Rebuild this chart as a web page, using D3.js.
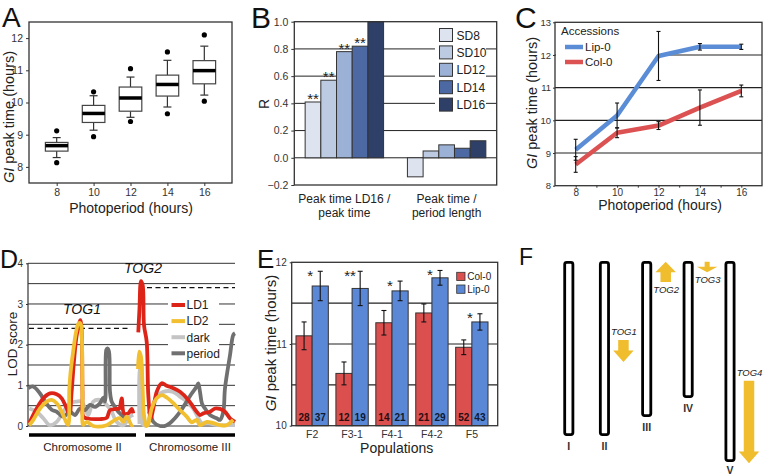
<!DOCTYPE html>
<html><head><meta charset="utf-8">
<script src="https://cdn.jsdelivr.net/npm/d3@7"></script>
<style>body{margin:0;background:#fff}</style>
</head><body><svg id="c" width="765" height="476"></svg>
<script>
// ---------- DATA ----------
// Panel A (box plots)
const photoA = [8, 10, 12, 14, 16];
const aOutHi = [9.12, 10.33, 11.05, 11.57, 12.1];
const aWhiHi = [8.91, 10.21, 10.79, 11.31, 11.75];
const aQ3 = [8.76, 9.91, 10.48, 10.85, 11.3];
const aMed = [8.66, 9.66, 10.14, 10.56, 10.99];
const aQ1 = [8.49, 9.38, 9.73, 10.2, 10.58];
const aWhiLo = [8.29, 9.14, 9.54, 9.86, 10.23];
const aOutLo = [8.13, 8.94, 9.41, 9.65, 10.04];
const ticksA_y = [8, 9, 10, 11, 12];

// Panel B (correlations)
const groupsB = ["peak", "period"];
const groupLabelsB = [["Peak time LD16 /", "peak time"], ["Peak time /", "period length"]];
const seriesB = ["SD8", "SD10", "LD12", "LD14", "LD16"];
const rPeakLD16 = [0.41, 0.57, 0.78, 0.82, 1.0];
const rPeriod = [-0.14, 0.05, 0.095, 0.07, 0.125];
const sigB = ["**", "**", "**", "**", ""];
const colorsB = ["#dde4f0", "#bccbe2", "#9bb1d6", "#4d69a4", "#2f4068"];
const ticksB = [-0.2, 0, 0.2, 0.4, 0.6, 0.8, 1.0];

// Panel C (accessions)
const photoC = [8, 10, 12, 14, 16];
const lipMean = [9.1, 10.15, 11.97, 12.25, 12.25];
const lipErr = [0.32, 0.38, 0.75, 0.1, 0.08];
const colMean = [8.65, 9.62, 9.84, 10.39, 10.9];
const colErr = [0.24, 0.15, 0.12, 0.54, 0.18];

// Panel D (QTL LOD profiles) : [map position, LOD]
const ld1Chr2 = [[1.3,0.07],[8.7,0.43],[15.3,0.68],[22,0.8],[28.7,0.78],[33.7,0.68],[38.7,0.43],[41.5,0.28],[43.5,0.8],[46,1.6],[48.5,2.2],[51,2.5],[52.3,2.6],[53.5,2.4],[54.5,0.8],[55.3,0.23],[58.7,0.19],[72,0.17],[78.7,0.2],[82,0.39],[88.7,0.42],[91.3,0.43],[93.7,0.68],[96,0.31],[100.3,0.31],[103.7,0.42],[105.3,0.31]];
const ld1Chr3 = [[110.3,2.3],[111.5,2.9],[113,3.56],[114.7,3.46],[116,2.48],[118.7,2.07],[120.3,0.76],[122.7,0.19],[125.3,0.43],[128.7,0.84],[133.7,1.05],[138.7,0.99],[145.3,0.93],[152,0.84],[160.3,0.64],[168.7,0.35],[172,0.27],[175.3,0.31],[182,0.35],[187,0.43],[192,0.42],[197,0.35],[202,0.19],[207,0.1]];
const ld2Chr2 = [[1.3,0.02],[5.3,0.15],[12,0.43],[18.7,0.6],[23.7,0.64],[28.7,0.56],[33.7,0.35],[38.7,0.07],[40.3,0.03],[41.3,0.9],[42.5,1.3],[45,1.8],[48,2.3],[50.5,2.52],[52.5,2.52],[53.8,2.2],[54.5,0.6],[55.3,0.03],[58.7,0.1],[65.3,0.0],[78.7,0.02],[87,0.15],[92,0.19],[95.3,0.1],[98.7,0.23],[103.7,0.02],[105.3,0.03]];
const ld2Chr3 = [[110,1.4],[111.3,1.83],[113,1.7],[114.5,1.0],[116,0.27],[118.3,0.0],[120,0.03],[123.7,0.43],[128.7,0.68],[133.7,0.76],[138.7,0.7],[145.3,0.56],[152,0.39],[158.7,0.23],[163.7,0.09],[168.7,0.15],[172,0.02],[178.7,0.1],[185.3,0.07],[192,0.02],[198.7,0.02],[205.3,0.15]];
const darkChr2 = [[1.3,0.43],[8.7,0.35],[15.3,0.19],[22,0.02],[28.7,0.1],[35.3,0.35],[42,0.56],[48.7,0.6],[53.7,0.6],[57,0.43],[60.3,0.27],[65.3,0.6],[72,0.64],[78.7,0.52],[83.7,0.35],[88.7,0.1],[95.3,0.02],[102,0.23],[105.3,0.27]];
const darkChr3 = [[111.5,0.05],[112.5,1.5],[113.5,1.5],[114.5,0.05],[118,0.02],[123.7,0.43],[128.7,0.72],[135.3,0.84],[145.3,0.84],[152,0.72],[158.7,0.6],[165,0.43],[170.3,0.2],[173.7,0.07],[180,0.07],[190,0.02],[200,0.02],[207,0.02]];
const periodChr2 = [[0.3,0.93],[5.3,0.97],[12,0.8],[17,0.6],[23.7,0.4],[28.7,0.35],[35.3,0.23],[42,0.35],[47,0.27],[52,0.43],[57,0.39],[62,0.52],[67,0.47],[72,0.56],[75.3,0.7],[77,0.6],[78.3,1.87],[79.5,1.91],[81,1.83],[82,0.84],[83.7,0.6],[87,0.47],[90.3,0.35],[93.7,0.27],[98.7,0.15]];
const periodChr3 = [[121,0.3],[122,0.35],[125.3,0.1],[132,0.0],[138.7,0.02],[145.3,0.15],[152,0.35],[158.7,0.6],[163.7,0.8],[168.7,0.97],[170.3,1.05],[172,0.84],[174,0.55],[177,0.43],[182,0.27],[188.7,0.19],[192,0.15],[195.3,0.35],[197,0.93],[202,1.74],[205.3,2.24],[207,2.28]];
const thresholdsD = [{chr: "II", lod: 2.4, from: 1, to: 100}, {chr: "III", lod: 3.4, from: 119, to: 207}];
const chromosD = [{name: "Chromosome II", from: 1, to: 108}, {name: "Chromosome III", from: 117, to: 207}];
const qtlLabelsD = [{name: "TOG1", pos: 54, lod: 2.75}, {name: "TOG2", pos: 115, lod: 3.75}];
const legendD = ["LD1", "LD2", "dark", "period"];
const colorsD = ["#dd2418", "#f1bf30", "#c4c4c4", "#707070"];
const ticksD = [0, 1, 2, 3, 4];
const gridD = [0, 0.5, 1, 1.5, 2, 2.5, 3, 3.5, 4];

// Panel E (populations)
const pops = ["F2", "F3-1", "F4-1", "F4-2", "F5"];
const colE = [11.1, 10.64, 11.26, 11.38, 10.96];
const colEErr = [0.17, 0.14, 0.15, 0.11, 0.09];
const lipE = [11.71, 11.68, 11.65, 11.81, 11.27];
const lipEErr = [0.18, 0.21, 0.12, 0.09, 0.1];
const nCol = [28, 12, 14, 21, 52];
const nLip = [37, 19, 21, 29, 43];
const sigE = ["*", "**", "*", "*", "*"];
const ticksE = [10, 11, 12];
const gridE = [10.5, 11, 11.5];

// Panel F (chromosome map)
const chrNames = ["I", "II", "III", "IV", "V"];
const chrSlot = [0, 0.86, 1.88, 2.88, 3.89];
const chrLen = [175, 175, 156, 137, 201];
const togs = [
  {name: "TOG1", chr: 1, from: 79, to: 101},
  {name: "TOG2", chr: 2, from: 21, to: 0.7},
  {name: "TOG3", chr: 3, from: 0.7, to: 11.3},
  {name: "TOG4", chr: 4, from: 119.7, to: 202.3}
];

// ---------- DRAWING ----------
const FONT = 'Arial, "Liberation Sans", Helvetica, sans-serif';
const svg = d3.select("#c").attr("font-family", FONT);
const INK = "#222";

function panelLabel(t, x, y, s) {
  svg.append("text").attr("x", x).attr("y", y).attr("font-size", s).attr("fill", "#111").text(t);
}
function styleAxis(g, fs) {
  g.attr("font-family", FONT);
  g.select(".domain").remove();
  g.selectAll(".tick text").attr("font-size", fs).attr("fill", "#333");
  g.selectAll(".tick line").attr("stroke", "#333");
}
function giLabel(g, x, y, fs) {
  const t = g.append("text").attr("transform", `translate(${x},${y}) rotate(-90)`)
    .attr("text-anchor", "middle").attr("font-size", fs).attr("fill", INK);
  t.append("tspan").attr("font-style", "italic").text("GI");
  t.append("tspan").text(" peak time (hours)");
}

// ===== Panel A =====
{
  const g = svg.append("g");
  const x = d3.scaleLinear().domain([6.5, 17.5]).range([29, 232]);
  const y = d3.scaleLinear().domain([7.5, 12.5]).range([183, 22]);
  g.append("rect").attr("x", 29).attr("y", 22).attr("width", 203).attr("height", 161)
    .attr("fill", "none").attr("stroke", "#333").attr("stroke-width", 1.3);
  const ya = g.append("g").attr("transform", "translate(29,0)")
    .call(d3.axisLeft(y).tickValues(ticksA_y).tickSize(3).tickFormat(d3.format("d")));
  styleAxis(ya, 10.5);
  const xa = g.append("g").attr("transform", "translate(0,183)")
    .call(d3.axisBottom(x).tickValues(photoA).tickSize(3).tickFormat(d3.format("d")));
  styleAxis(xa, 10.5);
  const bw = 22.6, cw = 8;
  photoA.forEach((p, i) => {
    const cx = x(p);
    g.append("line").attr("x1", cx).attr("x2", cx).attr("y1", y(aWhiHi[i])).attr("y2", y(aQ3[i])).attr("stroke", "#333").attr("stroke-width", 1.2);
    g.append("line").attr("x1", cx).attr("x2", cx).attr("y1", y(aQ1[i])).attr("y2", y(aWhiLo[i])).attr("stroke", "#333").attr("stroke-width", 1.2);
    [aWhiHi[i], aWhiLo[i]].forEach(v => g.append("line").attr("x1", cx - cw / 2).attr("x2", cx + cw / 2)
      .attr("y1", y(v)).attr("y2", y(v)).attr("stroke", "#333").attr("stroke-width", 1.2));
    g.append("rect").attr("x", cx - bw / 2).attr("y", y(aQ3[i])).attr("width", bw).attr("height", y(aQ1[i]) - y(aQ3[i]))
      .attr("fill", "#fff").attr("stroke", "#444").attr("stroke-width", 1.2);
    g.append("line").attr("x1", cx - bw / 2).attr("x2", cx + bw / 2).attr("y1", y(aMed[i])).attr("y2", y(aMed[i]))
      .attr("stroke", "#000").attr("stroke-width", 3.5);
    [aOutHi[i], aOutLo[i]].forEach(v => g.append("circle").attr("cx", cx).attr("cy", y(v)).attr("r", 2.6).attr("fill", "#000"));
  });
  giLabel(g, 14, 117, 14.5);
  g.append("text").attr("x", 131).attr("y", 213).attr("text-anchor", "middle").attr("font-size", 14).attr("fill", INK).text("Photoperiod (hours)");
  panelLabel("A", 2, 27, 28);
}

// ===== Panel B =====
{
  const g = svg.append("g");
  const L = 294.3, R = 496.7;
  const x0 = d3.scaleBand().domain(groupsB).range([L, R]).paddingInner(0.233).paddingOuter(0.106);
  const x1 = d3.scaleBand().domain(seriesB).range([0, x0.bandwidth()]);
  const y = d3.scaleLinear().domain([-0.2, 1.0]).range([185, 21.7]);
  ticksB.filter(t => t > -0.2 && t < 1).forEach(t =>
    g.append("line").attr("x1", L).attr("x2", R).attr("y1", y(t)).attr("y2", y(t)).attr("stroke", INK).attr("stroke-width", 1));
  g.append("rect").attr("x", 435).attr("y", 24).attr("width", 51).attr("height", 92).attr("fill", "#fff");
  const vals = [rPeakLD16, rPeriod];
  groupsB.forEach((gr, gi) => {
    seriesB.forEach((s, si) => {
      const v = vals[gi][si];
      const bx = x0(gr) + x1(s);
      g.append("rect").attr("x", bx).attr("y", y(Math.max(0, v))).attr("width", x1.bandwidth())
        .attr("height", Math.abs(y(v) - y(0))).attr("fill", colorsB[si]).attr("stroke", "#333").attr("stroke-width", 1);
      if (gi === 0 && sigB[si]) {
        g.append("text").attr("x", bx + x1.bandwidth() / 2).attr("y", y(v) + 2).attr("text-anchor", "middle")
          .attr("font-size", 15).attr("fill", INK).text(sigB[si]);
      }
    });
    groupLabelsB[gi].forEach((ln, li) => g.append("text").attr("x", x0(gr) + x0.bandwidth() / 2).attr("y", 203 + li * 13.5)
      .attr("text-anchor", "middle").attr("font-size", 12).attr("fill", INK).text(ln));
  });
  g.append("rect").attr("x", L).attr("y", y(1)).attr("width", R - L).attr("height", y(-0.2) - y(1))
    .attr("fill", "none").attr("stroke", "#333").attr("stroke-width", 1.3);
  const ya = g.append("g").attr("transform", `translate(${L},0)`)
    .call(d3.axisLeft(y).tickValues(ticksB).tickSize(3).tickFormat(d3.format(".1f")));
  styleAxis(ya, 10.5);
  seriesB.forEach((s, i) => {
    const ty = 28.5 + i * 17.4;
    g.append("rect").attr("x", 439.5).attr("y", ty).attr("width", 13).attr("height", 13)
      .attr("fill", colorsB[i]).attr("stroke", "#333").attr("stroke-width", 1);
    g.append("text").attr("x", 456.5).attr("y", ty + 11).attr("font-size", 12).attr("fill", INK).text(s);
  });
  g.append("text").attr("transform", "translate(269,104) rotate(-90)").attr("text-anchor", "middle")
    .attr("font-size", 14).attr("fill", INK).text("R");
  panelLabel("B", 251, 28, 30);
}

// ===== Panel C =====
{
  const g = svg.append("g");
  const L = 555, R = 762, T = 22.3, B = 185.7;
  const x = d3.scaleLinear().domain([7, 17]).range([L, R]);
  const y = d3.scaleLinear().domain([8, 13]).range([B, T]);
  [9, 10, 11, 12].forEach(t => g.append("line").attr("x1", L).attr("x2", R).attr("y1", y(t)).attr("y2", y(t)).attr("stroke", INK).attr("stroke-width", 1.1));
  g.append("rect").attr("x", L + 1).attr("y", T + 1).attr("width", 101).attr("height", 47).attr("fill", "#fff");
  g.append("rect").attr("x", L).attr("y", T).attr("width", R - L).attr("height", B - T)
    .attr("fill", "none").attr("stroke", "#333").attr("stroke-width", 1.3);
  const ya = g.append("g").attr("transform", `translate(${L},0)`)
    .call(d3.axisLeft(y).tickValues([8, 9, 10, 11, 12, 13]).tickSize(2).tickPadding(2).tickFormat(d3.format("d")));
  styleAxis(ya, 9.5);
  const xa = g.append("g").attr("transform", `translate(0,${B})`)
    .call(d3.axisBottom(x).tickValues(d3.range(8, 17)).tickSize(2).tickPadding(1.5).tickFormat(d => d % 2 === 0 ? d : ""));
  styleAxis(xa, 10);
  const line = d3.line().x((d, i) => x(photoC[i])).y(d => y(d));
  g.append("path").datum(colMean).attr("d", line).attr("fill", "none").attr("stroke", "#dc5252").attr("stroke-width", 4.5).attr("stroke-linejoin", "round");
  g.append("path").datum(lipMean).attr("d", line).attr("fill", "none").attr("stroke", "#5b8dd6").attr("stroke-width", 4.5).attr("stroke-linejoin", "round");
  [[lipMean, lipErr], [colMean, colErr]].forEach(([m, e]) => photoC.forEach((p, i) => {
    const cx = x(p);
    g.append("line").attr("x1", cx).attr("x2", cx).attr("y1", y(m[i] + e[i])).attr("y2", y(m[i] - e[i])).attr("stroke", "#111").attr("stroke-width", 1.1);
    [m[i] + e[i], m[i] - e[i]].forEach(v => g.append("line").attr("x1", cx - 2).attr("x2", cx + 2).attr("y1", y(v)).attr("y2", y(v)).attr("stroke", "#111").attr("stroke-width", 1.1));
  }));
  g.append("text").attr("x", 561).attr("y", 35).attr("font-size", 11.5).attr("fill", INK).text("Accessions");
  [["Lip-0", "#5b8dd6"], ["Col-0", "#dc5252"]].forEach(([n, c], i) => {
    const ly = 47 + i * 15;
    g.append("line").attr("x1", 565).attr("x2", 583).attr("y1", ly).attr("y2", ly).attr("stroke", c).attr("stroke-width", 4.5);
    g.append("text").attr("x", 585).attr("y", ly + 4.2).attr("font-size", 11.5).attr("fill", INK).text(n);
  });
  giLabel(g, 537, 103, 14.5);
  g.append("text").attr("x", 660).attr("y", 210).attr("text-anchor", "middle").attr("font-size", 14).attr("fill", INK).text("Photoperiod (hours)");
  panelLabel("C", 515, 28, 30);
}

// ===== Panel D =====
{
  const g = svg.append("g");
  const L = 28, R = 235;
  const x = d3.scaleLinear().domain([0, 207]).range([L, R]);
  const y = d3.scaleLinear().domain([0, 4]).range([426, 263.3]);
  gridD.forEach(t => g.append("line").attr("x1", L).attr("x2", R).attr("y1", y(t)).attr("y2", y(t)).attr("stroke", "#333").attr("stroke-width", 1));
  g.append("line").attr("x1", L).attr("x2", L).attr("y1", y(0)).attr("y2", y(4)).attr("stroke", "#333").attr("stroke-width", 1.2);
  const ya = g.append("g").attr("transform", `translate(${L},0)`)
    .call(d3.axisLeft(y).tickValues(ticksD).tickSize(2).tickFormat(d3.format("d")));
  styleAxis(ya, 10);
  thresholdsD.forEach(t => g.append("line").attr("x1", x(t.from)).attr("x2", x(t.to)).attr("y1", y(t.lod)).attr("y2", y(t.lod))
    .attr("stroke", "#111").attr("stroke-width", 1.3).attr("stroke-dasharray", "5,3.5"));
  g.append("rect").attr("x", 168).attr("y", 297).attr("width", 51).attr("height", 63).attr("fill", "#fff");
  const line = d3.line().x(d => x(d[0])).y(d => y(d[1])).curve(d3.curveCatmullRom.alpha(0.5));
  const curves = [[darkChr2, darkChr3, 2], [periodChr2, periodChr3, 3], [ld1Chr2, ld1Chr3, 0], [ld2Chr2, ld2Chr3, 1]];
  curves.forEach(([a, b, ci]) => [a, b].forEach(d => g.append("path").datum(d).attr("d", line)
    .attr("fill", "none").attr("stroke", colorsD[ci]).attr("stroke-width", 3.8).attr("stroke-linejoin", "round")));
  chromosD.forEach(c => {
    g.append("line").attr("x1", x(c.from)).attr("x2", x(c.to)).attr("y1", 435).attr("y2", 435).attr("stroke", "#000").attr("stroke-width", 3.5);
    g.append("text").attr("x", (x(c.from) + x(c.to)) / 2).attr("y", 451).attr("text-anchor", "middle").attr("font-size", 11.5).attr("fill", INK).text(c.name);
  });
  qtlLabelsD.forEach(q => g.append("text").attr("x", x(q.pos)).attr("y", y(q.lod)).attr("text-anchor", "middle")
    .attr("font-size", 14).attr("font-style", "italic").attr("fill", "#111").text(q.name));
  legendD.forEach((n, i) => {
    const ly = 305 + i * 16.1;
    g.append("line").attr("x1", 171.5).attr("x2", 185).attr("y1", ly).attr("y2", ly).attr("stroke", colorsD[i]).attr("stroke-width", 4);
    g.append("text").attr("x", 186.5).attr("y", ly + 4.3).attr("font-size", 12).attr("fill", INK).text(n);
  });
  g.append("text").attr("transform", "translate(17,344) rotate(-90)").attr("text-anchor", "middle")
    .attr("font-size", 13.5).attr("fill", INK).text("LOD score");
  panelLabel("D", 0, 268, 25);
}

// ===== Panel E =====
{
  const g = svg.append("g");
  const L = 291.7, R = 497.7, T = 262.3, B = 425.7;
  const x0 = d3.scaleBand().domain(pops).range([292, 492]).paddingInner(0.19).paddingOuter(0.1);
  const x1 = d3.scaleBand().domain(["Col-0", "Lip-0"]).range([0, x0.bandwidth()]);
  const y = d3.scaleLinear().domain([10, 12]).range([B, T]);
  gridE.forEach(t => g.append("line").attr("x1", L).attr("x2", R).attr("y1", y(t)).attr("y2", y(t)).attr("stroke", INK).attr("stroke-width", 1.1));
  const ser = [["Col-0", colE, colEErr, nCol, "#dc4f4f"], ["Lip-0", lipE, lipEErr, nLip, "#5b88d6"]];
  pops.forEach((p, i) => {
    ser.forEach(([k, m, e, n, c]) => {
      const bx = x0(p) + x1(k), w = x1.bandwidth();
      g.append("rect").attr("x", bx).attr("y", y(m[i])).attr("width", w).attr("height", y(10) - y(m[i]))
        .attr("fill", c).attr("stroke", "#333").attr("stroke-width", 1);
      const cx = bx + w / 2;
      g.append("line").attr("x1", cx).attr("x2", cx).attr("y1", y(m[i] + e[i])).attr("y2", y(m[i] - e[i])).attr("stroke", "#111").attr("stroke-width", 1.1);
      [m[i] + e[i], m[i] - e[i]].forEach(v => g.append("line").attr("x1", cx - 2.5).attr("x2", cx + 2.5).attr("y1", y(v)).attr("y2", y(v)).attr("stroke", "#111").attr("stroke-width", 1.1));
      g.append("text").attr("x", cx).attr("y", 421).attr("text-anchor", "middle").attr("font-size", 10).attr("font-weight", "bold")
        .attr("fill", k === "Col-0" ? "#2a0d0d" : "#0d1a33").text(n[i]);
    });
    g.append("text").attr("x", x0(p) + x0.bandwidth() / 2 - 2).attr("y", y(lipE[i] + lipEErr[i]) + 9.5).attr("text-anchor", "middle")
      .attr("font-size", 15).attr("fill", INK).text(sigE[i]);
  });
  g.append("rect").attr("x", L).attr("y", T).attr("width", R - L).attr("height", B - T)
    .attr("fill", "none").attr("stroke", "#333").attr("stroke-width", 1.3);
  const ya = g.append("g").attr("transform", `translate(${L},0)`)
    .call(d3.axisLeft(y).tickValues(ticksE).tickSize(2).tickFormat(d3.format("d")));
  styleAxis(ya, 10);
  const xa = g.append("g").attr("transform", `translate(0,${B})`).call(d3.axisBottom(x0).tickSize(0).tickPadding(5));
  styleAxis(xa, 10.5);
  [["Col-0", "#dc4f4f"], ["Lip-0", "#5b88d6"]].forEach(([n, c], i) => {
    const ly = 272.3 + i * 12.7;
    g.append("rect").attr("x", 456.7).attr("y", ly).attr("width", 8.3).attr("height", 8.3).attr("fill", c).attr("stroke", "#333").attr("stroke-width", 0.8);
    g.append("text").attr("x", 467.3).attr("y", ly + 7.8).attr("font-size", 10).attr("fill", INK).text(n);
  });
  giLabel(g, 276, 343, 15);
  g.append("text").attr("x", 396.7).attr("y", 453).attr("text-anchor", "middle").attr("font-size", 14).attr("fill", INK).text("Populations");
  panelLabel("E", 257, 268, 26);
}

// ===== Panel F =====
{
  const g = svg.append("g");
  const xs = d3.scaleLinear().domain([0, 3.89]).range([568.8, 730]);
  const ys = d3.scaleLinear().domain([0, 200]).range([261, 461]);
  const w = 11;
  chrNames.forEach((n, i) => {
    const cx = xs(chrSlot[i]);
    g.append("rect").attr("x", cx - w / 2 + 1.4).attr("y", ys(0) + 1.4).attr("width", w - 2.8).attr("height", ys(chrLen[i]) - ys(0) - 2.8)
      .attr("rx", 2).attr("fill", "#fff").attr("stroke", "#000").attr("stroke-width", 2.8);
    g.append("text").attr("x", cx).attr("y", Math.min(ys(chrLen[i]) + 14, 474)).attr("text-anchor", "middle").attr("font-size", 10.5)
      .attr("font-weight", "bold").attr("fill", "#333").text(n);
  });
  togs.forEach(t => {
    const cx = xs(chrSlot[t.chr]) + 19;
    const y0 = ys(t.from), y1 = ys(t.to);
    const len = Math.abs(y1 - y0), dir = Math.sign(y1 - y0);
    const h = Math.min(11.7, 0.52 * len);
    const sw = len < 12 ? 5 : 10.5, hw = 20.5;
    const yh = y1 - dir * h;
    const pts = [[cx - sw / 2, y0], [cx + sw / 2, y0], [cx + sw / 2, yh], [cx + hw / 2, yh], [cx, y1], [cx - hw / 2, yh], [cx - sw / 2, yh]];
    g.append("path").attr("d", d3.line()(pts) + "Z").attr("fill", "#f0bd2e");
    let ly;
    if (dir > 0 && t.name !== "TOG3") ly = Math.min(y0, y1) - 5;
    else ly = Math.max(y0, y1) + 10.5;
    g.append("text").attr("x", cx + 0.5).attr("y", ly).attr("text-anchor", "middle").attr("font-size", 9.5)
      .attr("font-style", "italic").attr("fill", "#222").text(t.name);
  });
  panelLabel("F", 519, 265, 23);
}
</script></body></html>
